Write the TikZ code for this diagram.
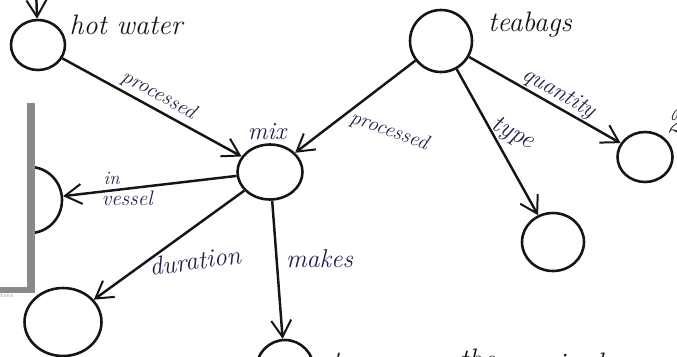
\documentclass[tikz,border=0pt]{standalone}
\usepackage{tikz}
\usetikzlibrary{arrows.meta, shapes.geometric}
\usepackage{xcolor}
\definecolor{Ink}{HTML}{251E4A}
\definecolor{Pencil}{HTML}{151515}
\definecolor{PageEdge}{HTML}{8A8A8A}
\newcommand{\hand}[1]{\fontsize{#1}{#1}\selectfont\itshape}

\begin{document}
\begin{tikzpicture}[
    x=0.03cm, y=-0.03cm,
    every node/.style={font=\itshape},
    blob/.style 2 args={draw=Pencil, ellipse, line width=2.2pt, inner sep=0pt,
        minimum width=#1*0.03cm, minimum height=#2*0.03cm},
    arr/.style={-{Straight Barb[length=5mm, width=6mm, line width=1.7pt]},
        line width=2.1pt, Pencil},
    lbl/.style={text=Ink, font=\hand{18pt}, inner sep=1pt},
    tag/.style={text=Pencil, font=\hand{24pt}, inner sep=1pt},
]
\useasboundingbox (0,0) rectangle (677,356);
\clip (0,0) rectangle (677,356);

% === Nodes ===
\node[blob={54}{50}] (hot) at (38,45) {};
\node[blob={65}{55}] (mix) at (270,172) {};
\node[blob={62}{62}] (tea) at (441,41) {};
\node[blob={55}{50}] (two) at (645,157) {};
\node[blob={62}{58}] (kind) at (553,242) {};
\node[blob={64}{66}] (vessel) at (30,200) {};
\node[blob={77}{68}] (dur) at (63,322) {};
\node[blob={58}{60}] (brew) at (285,370) {};
\coordinate (src) at (36,-12);

% === Node names ===
\node[tag] at (126,25) {hot water};
\node[tag, font=\hand{21pt}, text=Ink] at (267,132) {mix};
\node[tag] at (530,25) {teabags};
\node[tag, font=\hand{30pt}, anchor=west] at (665,121) {2};

% === Connectors ===
\draw[arr] (src) -- (hot);
\draw[arr] (hot) -- (mix)
    node[lbl, midway, above, sloped, yshift=2pt] {processed};
\draw[arr] (tea) -- (mix)
    node[lbl, pos=0.45, below right, rotate=-20, xshift=-6pt, yshift=-5pt] {processed};
\draw[arr] (tea) -- (two)
    node[lbl, font=\hand{20pt}, midway, above, sloped, xshift=8pt] {quantity};
\draw[arr] (tea) -- (kind)
    node[lbl, font=\hand{22pt}, pos=0.38, right, rotate=-28, xshift=2pt, yshift=3pt] {type};
\draw[arr] (mix) -- (vessel)
    node[lbl, font=\hand{16pt}, pos=0.72, above, yshift=3pt] {in}
    node[lbl, pos=0.63, below] {vessel};
\draw[arr] (mix) -- (dur)
    node[lbl, font=\hand{22pt}, pos=0.45, rotate=8, xshift=13pt, yshift=-20pt] {duration};
\draw[arr] (mix) -- (brew)
    node[lbl, font=\hand{22pt}, pos=0.42, right, xshift=6pt] {makes};

% === Bottom line (cut off) ===
\node[tag, anchor=base west] at (330,370) {tea};
\node[tag, anchor=base west] at (458,368) {the};
\node[tag, anchor=base west] at (533,372) {mixed};

% === Overlapping page edge ===
\fill[white] (0,103) rectangle (31,287);
\fill[PageEdge] (27,103) rectangle (35,293);
\fill[PageEdge] (0,287) rectangle (35,293);
\node[font=\tiny, text=PageEdge, anchor=north west, inner sep=0pt] at (0,294) {ters};

\end{tikzpicture}
\end{document}
